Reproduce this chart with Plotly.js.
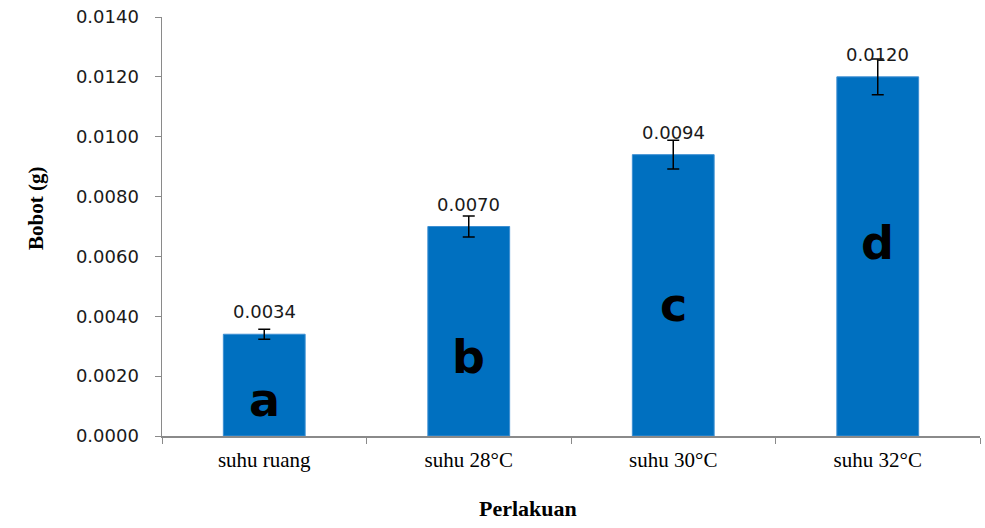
<!DOCTYPE html>
<html>
<head>
<meta charset="utf-8">
<script src="https://cdn.plot.ly/plotly-3.0.1.min.js"></script>
<style>html,body{margin:0;padding:0;background:#fff;}#chart{width:985px;height:528px;}</style>
</head>
<body>
<div id="chart"></div>
<script>
var categories = ["suhu ruang", "suhu 28°C", "suhu 30°C", "suhu 32°C"];
var bobot = [0.0034, 0.0070, 0.0094, 0.0120];
var errors = [0.00017, 0.00035, 0.00048, 0.00060];
var valueLabels = ["0.0034", "0.0070", "0.0094", "0.0120"];
var letters = ["a", "b", "c", "d"];
var letterHeights = [0.0012, 0.00264, 0.00438, 0.00645];
var yTicks = [0, 0.002, 0.004, 0.006, 0.008, 0.010, 0.012, 0.014];
var yTickLabels = ["0.0000", "0.0020", "0.0040", "0.0060", "0.0080", "0.0100", "0.0120", "0.0140"];

var trace = {
  type: "bar",
  x: categories,
  y: bobot,
  width: 0.4,
  marker: {color: "#0070C0", line: {color: "#3d8fd2", width: 1}},
  error_y: {type: "data", array: errors, visible: true, color: "#000", thickness: 1.5, width: 6},
  hoverinfo: "none"
};

var annotations = [];
for (var i = 0; i < categories.length; i++) {
  annotations.push({
    x: categories[i], y: bobot[i], xref: "x", yref: "y",
    text: valueLabels[i], showarrow: false, yanchor: "bottom", yshift: 10,
    font: {family: "DejaVu Sans, Verdana, sans-serif", size: 18, color: "#1a1a1a"}
  });
  annotations.push({
    x: categories[i], y: letterHeights[i], xref: "x", yref: "y",
    text: "<b>" + letters[i] + "</b>", showarrow: false, yanchor: "middle",
    font: {family: "DejaVu Sans, Verdana, sans-serif", size: 46, color: "#000"}
  });
}
annotations.push({
  xref: "paper", yref: "paper", x: -0.154, y: 0.542, textangle: -90,
  xanchor: "center", yanchor: "middle",
  text: "<b>Bobot (g)</b>", showarrow: false,
  font: {family: "Liberation Serif, Times New Roman, serif", size: 21, color: "#000"}
});
annotations.push({
  xref: "paper", yref: "paper", x: 0.447, y: -0.172,
  xanchor: "center", yanchor: "middle",
  text: "<b>Perlakuan</b>", showarrow: false,
  font: {family: "Liberation Serif, Times New Roman, serif", size: 22, color: "#000"}
});

var layout = {
  width: 985, height: 528,
  margin: {l: 162, r: 5, t: 17, b: 92},
  paper_bgcolor: "#fff", plot_bgcolor: "#fff",
  showlegend: false,
  xaxis: {
    type: "category",
    showline: true, linecolor: "#8a8a8a", linewidth: 1.5,
    ticks: "outside", tickson: "boundaries", ticklen: 6, tickcolor: "#8a8a8a",
    tickfont: {family: "Liberation Serif, Times New Roman, serif", size: 21, color: "#000"},
    ticklabelstandoff: 4,
    showgrid: false, zeroline: false, fixedrange: true
  },
  yaxis: {
    range: [0, 0.014],
    tickvals: yTicks, ticktext: yTickLabels,
    showline: true, linecolor: "#8a8a8a", linewidth: 1.5,
    ticks: "outside", ticklen: 6, tickcolor: "#8a8a8a",
    tickfont: {family: "DejaVu Sans, Verdana, sans-serif", size: 18, color: "#1a1a1a"},
    ticklabelstandoff: 12,
    showgrid: false, zeroline: false, fixedrange: true
  },
  annotations: annotations
};

Plotly.newPlot("chart", [trace], layout, {displayModeBar: false, staticPlot: true});
</script>
</body>
</html>
